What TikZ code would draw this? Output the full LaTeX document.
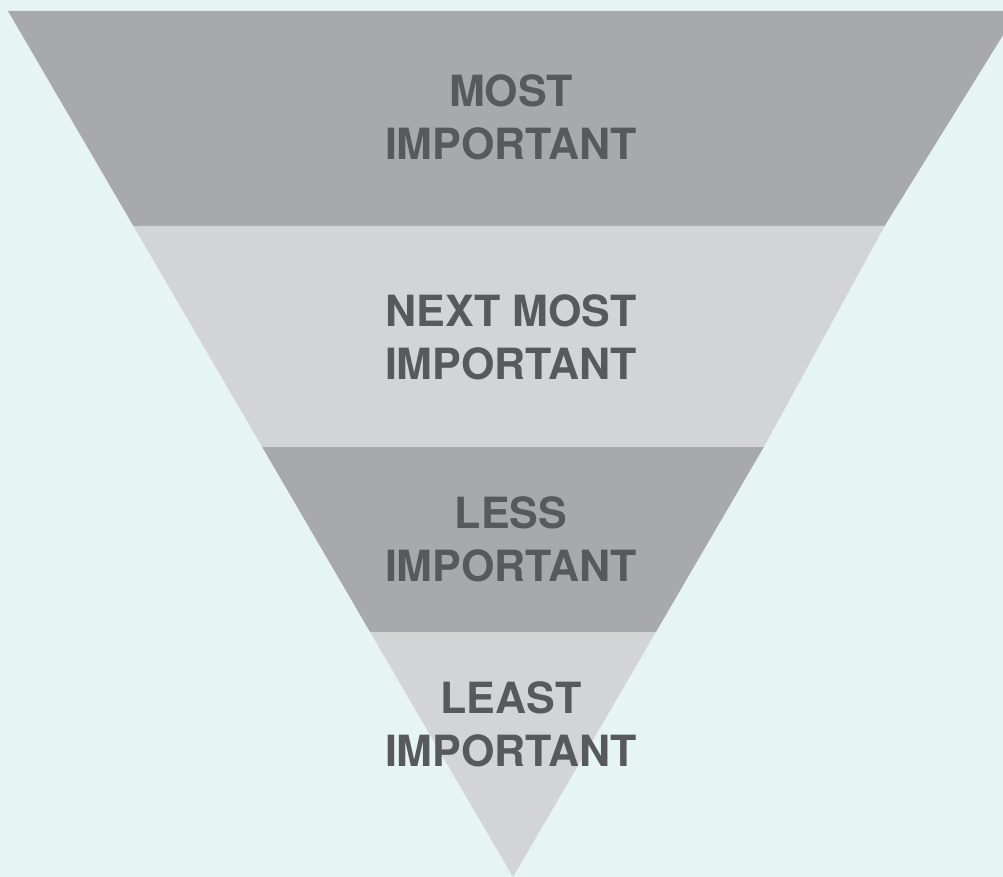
\documentclass[tikz,border=0pt]{standalone}
\usepackage{fontspec}
\setmainfont{TeX Gyre Heros}
\usepackage{xcolor}
\usepackage{tikz}

\definecolor{backg}{HTML}{E6F4F4}
\definecolor{darkband}{HTML}{A8A9AD}
\definecolor{lightband}{HTML}{D3D4D6}
\definecolor{labelgray}{HTML}{58595B}

\tikzset{
  bandlabel/.style={align=center, text=labelgray, inner sep=0pt,
    font=\fontsize{43}{53}\selectfont\bfseries}
}

\begin{document}
\begin{tikzpicture}[x=1pt, y=-1pt]
        \useasboundingbox (0, 0) rectangle (1003, 877);
        \fill[backg] (0, 0) rectangle (1003, 877);
        \clip (0, 0) rectangle (1003, 877);

        % bands, top to bottom
        \fill[darkband] (8, 11) -- (1018, 11) -- (884.6, 226) -- (133.4, 226) -- cycle;
        \fill[lightband] (133.4, 226) -- (884.6, 226) -- (763.8, 447) -- (262.2, 447) -- cycle;
        \fill[darkband] (262.2, 447) -- (763.8, 447) -- (655.9, 632) -- (370.1, 632) -- cycle;
        \fill[lightband] (370.1, 632) -- (655.9, 632) -- (513, 877) -- cycle;

        \node[bandlabel] (most) at (511, 117) {MOST\\IMPORTANT};
        \node[bandlabel] (next) at (511, 337) {NEXT MOST\\IMPORTANT};
        \node[bandlabel] (less) at (511, 539) {LESS\\IMPORTANT};
        \node[bandlabel] (least) at (511, 724) {LEAST\\IMPORTANT};
      \end{tikzpicture}
\end{document}
